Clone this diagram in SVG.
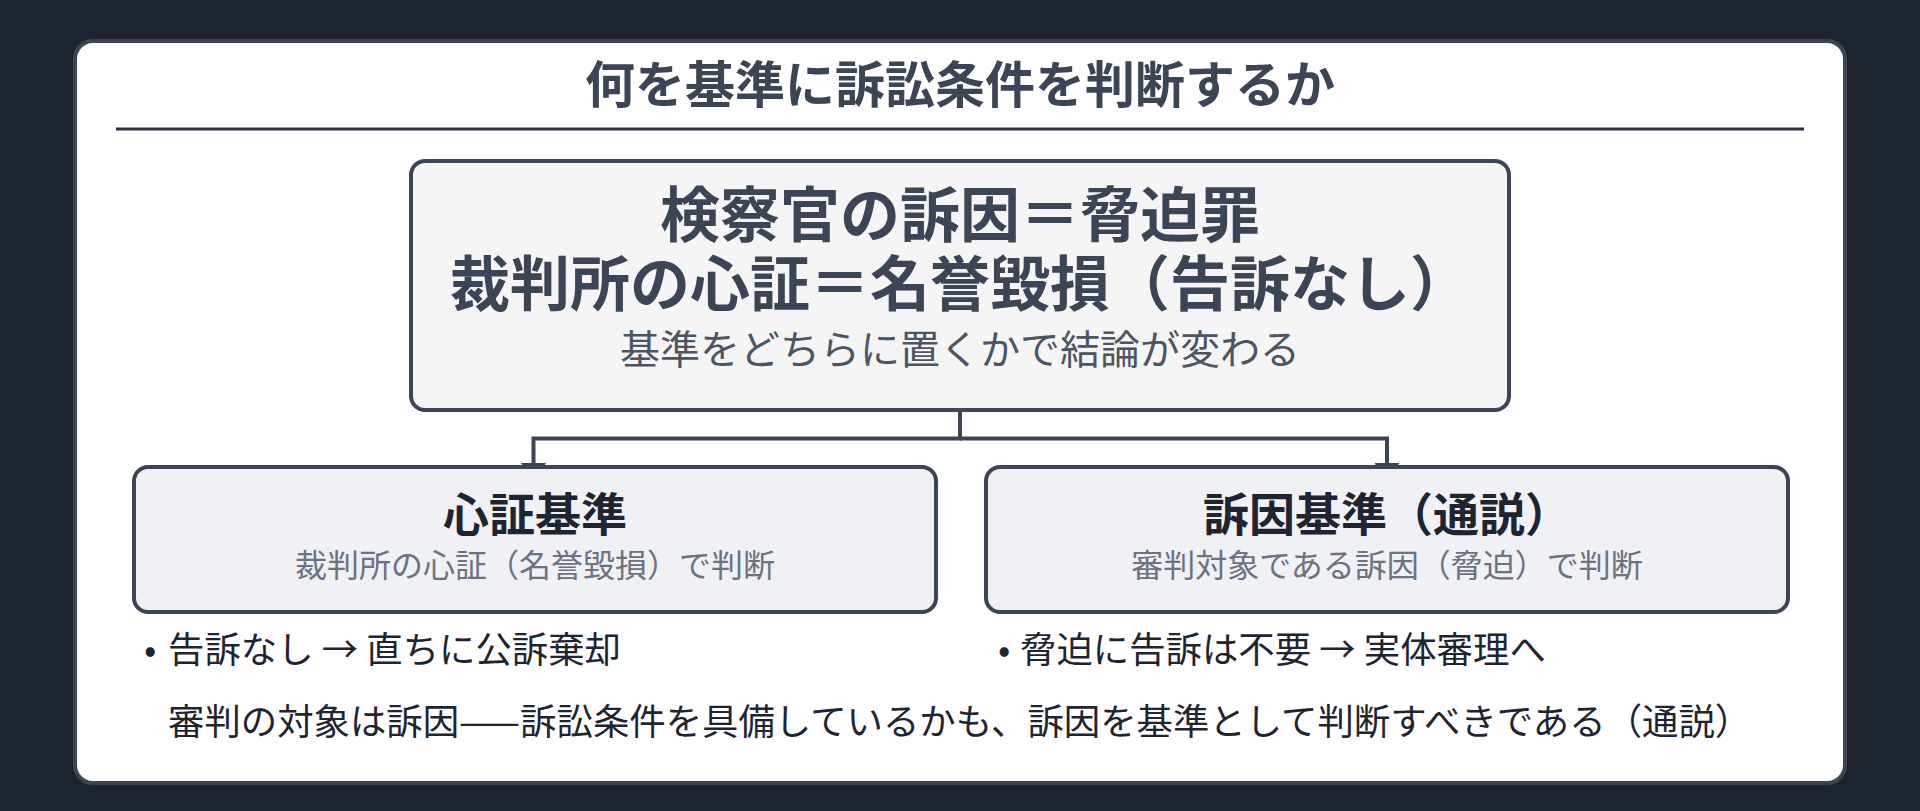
<svg xmlns="http://www.w3.org/2000/svg" width="1920" height="811" viewBox="0 0 1920 811">
<style>
text{font-family:"Noto Sans CJK JP","Noto Sans CJK SC",sans-serif;}
.box{stroke:#3b4556;stroke-width:4;}
.conn{fill:none;stroke:#3b4556;stroke-width:4;}
.title{font-size:50px;font-weight:700;fill:#3b4556;text-anchor:middle;}
.main{font-size:60px;font-weight:700;fill:#3b4556;text-anchor:middle;}
.mainsub{font-size:40px;fill:#4b5563;text-anchor:middle;}
.ctitle{font-size:46px;font-weight:700;fill:#1f2530;text-anchor:middle;}
.csub{font-size:32px;fill:#6b7280;text-anchor:middle;}
.body{font-size:36.4px;fill:#1f2530;}
</style>
<defs>
<marker id="arr" viewBox="0 0 20 25" refX="0" refY="12.5" markerWidth="20" markerHeight="25" orient="auto" markerUnits="userSpaceOnUse">
<path d="M0,0 L20,12.5 L0,25 z" fill="#3b4556"/>
</marker>
</defs>
<rect width="1920" height="811" fill="#1e242e"/>
<g id="panel">
<rect x="75" y="41" width="1770" height="742" rx="18" fill="#ffffff" stroke="#3b4556" stroke-width="4"/>
<text class="title" x="960" y="103">何を基準に訴訟条件を判断するか</text>
<line x1="116" y1="129" x2="1804" y2="129" stroke="#2d3440" stroke-width="3"/>
</g>
<g id="connectors">
<path class="conn" d="M960,410 V438.5 H533.5 V463" marker-end="url(#arr)"/>
<path class="conn" d="M960,438.5 H1387 V463" marker-end="url(#arr)"/>
</g>
<g id="node-main">
<rect class="box" x="411" y="161" width="1098" height="249" rx="14" fill="#f5f5f5"/>
<text class="main" x="960" y="237">検察官の訴因＝脅迫罪<tspan x="960" y="306">裁判所の心証＝名誉毀損（告訴なし）</tspan></text>
<text class="mainsub" x="960" y="364">基準をどちらに置くかで結論が変わる</text>
</g>
<g id="node-shinsho">
<rect class="box" x="134" y="467" width="802" height="145" rx="14" fill="#eff1f5"/>
<text class="ctitle" x="535" y="531">心証基準</text>
<text class="csub" x="535" y="577">裁判所の心証（名誉毀損）で判断</text>
</g>
<g id="node-soin">
<rect class="box" x="986" y="467" width="802" height="145" rx="14" fill="#eff1f5"/>
<text class="ctitle" x="1387" y="531">訴因基準（通説）</text>
<text class="csub" x="1387" y="577">審判対象である訴因（脅迫）で判断</text>
</g>
<g id="notes">
<text class="body" x="144" y="663">•<tspan x="168">告訴なし → 直ちに公訴棄却</tspan></text>
<text class="body" x="998" y="663">•<tspan x="1020">脅迫に告訴は不要 → 実体審理へ</tspan></text>
<text class="body" x="168" y="735">審判の対象は訴因——訴訟条件を具備しているかも、訴因を基準として判断すべきである（通説）</text>
</g>
</svg>
